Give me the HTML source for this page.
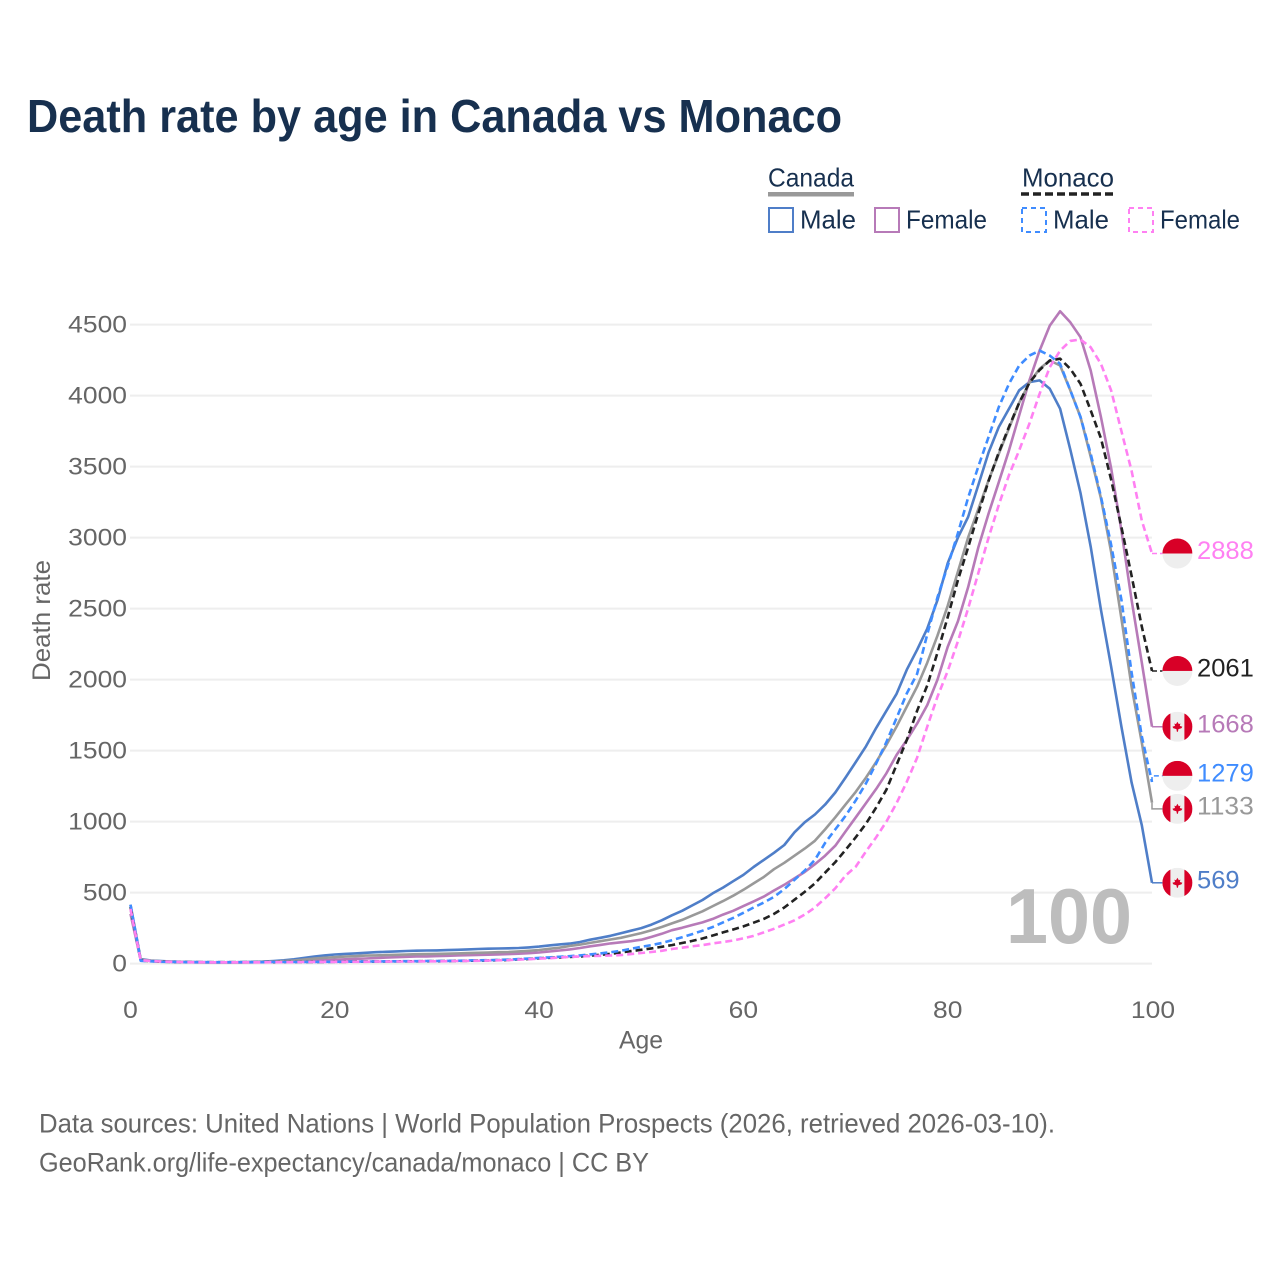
<!DOCTYPE html>
<html lang="en">
<head>
<meta charset="utf-8">
<title>Death rate by age in Canada vs Monaco</title>
<style>
html,body{margin:0;padding:0;background:#fff;}
svg{display:block;}
text{font-family:"Liberation Sans",sans-serif;}
</style>
</head>
<body>
<svg id="chart" xmlns="http://www.w3.org/2000/svg" width="1280" height="1280" viewBox="0 0 1280 1280">
  <rect width="1280" height="1280" fill="#ffffff"/>
  <text x="27" y="132" font-size="46" font-weight="700" fill="#17304f" textLength="815" lengthAdjust="spacingAndGlyphs">Death rate by age in Canada vs Monaco</text>

  <g fill="#17304f" font-size="26">
    <text x="768" y="186.5" textLength="86" lengthAdjust="spacingAndGlyphs">Canada</text>
    <rect x="768" y="192" width="86" height="4.5" fill="#999999"/>
    <text x="1022" y="186.5" textLength="92" lengthAdjust="spacingAndGlyphs">Monaco</text>
    <line x1="1021" y1="194" x2="1114" y2="194" stroke="#222222" stroke-width="3.5" stroke-dasharray="8 4"/>
    <rect x="769" y="208" width="24" height="24" fill="none" stroke="#4f7ec8" stroke-width="2"/>
    <text x="800" y="228.5" textLength="56" lengthAdjust="spacingAndGlyphs">Male</text>
    <rect x="875" y="208" width="24" height="24" fill="none" stroke="#b77ab8" stroke-width="2"/>
    <text x="906" y="228.5" textLength="81" lengthAdjust="spacingAndGlyphs">Female</text>
    <rect x="1022" y="208" width="24" height="24" fill="none" stroke="#3f8cff" stroke-width="2" stroke-dasharray="5 4"/>
    <text x="1053" y="228.5" textLength="56" lengthAdjust="spacingAndGlyphs">Male</text>
    <rect x="1129" y="208" width="24" height="24" fill="none" stroke="#ff80f2" stroke-width="2" stroke-dasharray="5 4"/>
    <text x="1160" y="228.5" textLength="80" lengthAdjust="spacingAndGlyphs">Female</text>
  </g>

  <g id="grid"></g>
  <g id="yticks"></g>
  <g id="xticks"></g>
  <text transform="translate(50 620.5) rotate(-90)" text-anchor="middle" font-size="25" fill="#666666" textLength="121" lengthAdjust="spacingAndGlyphs">Death rate</text>
  <text x="641" y="1048.5" text-anchor="middle" font-size="25" fill="#666666" textLength="44" lengthAdjust="spacingAndGlyphs">Age</text>
  <text x="1006" y="943" font-size="78" font-weight="700" fill="#bdbdbd" textLength="126" lengthAdjust="spacingAndGlyphs">100</text>
  <g id="series"></g>
  <g id="ends"></g>

  <text x="39" y="1132.5" font-size="26.5" fill="#666666" textLength="1016" lengthAdjust="spacingAndGlyphs">Data sources: United Nations | World Population Prospects (2026, retrieved 2026-03-10).</text>
  <text x="39" y="1171.5" font-size="26.5" fill="#666666" textLength="610" lengthAdjust="spacingAndGlyphs">GeoRank.org/life-expectancy/canada/monaco | CC BY</text>
</svg>
<script>
var yTicks = [0, 500, 1000, 1500, 2000, 2500, 3000, 3500, 4000, 4500];
var xTicks = [0, 20, 40, 60, 80, 100];

var canadaMale = [
  415,32,22,18,15,13,11,10,9,9,
  9,10,12,14,18,23,30,40,50,58,
  64,68,72,76,80,83,86,89,91,92,
  93,95,97,100,103,105,106,108,110,114,
  120,128,135,141,152,168,182,196,214,232,
  250,275,305,340,372,410,448,495,535,580,
  625,680,730,780,835,925,995,1050,1120,1205,
  1310,1420,1530,1660,1780,1900,2070,2210,2360,2560,
  2820,3000,3145,3370,3600,3779,3908,4037,4095,4107,
  4048,3908,3620,3314,2936,2493,2092,1669,1275,975,569
];
var canadaFemale = [
  350,25,18,14,12,10,9,8,8,8,
  8,8,9,10,11,13,15,18,21,24,
  27,30,33,36,39,42,45,48,50,51,
  53,55,57,59,61,63,65,67,70,73,
  78,85,92,100,110,122,132,142,150,158,
  168,188,210,235,252,272,290,315,345,372,
  405,438,472,515,555,600,645,700,760,830,
  930,1030,1130,1230,1340,1470,1575,1690,1821,2000,
  2230,2410,2650,2930,3170,3390,3615,3861,4107,4317,
  4493,4594,4516,4411,4177,3850,3490,3050,2560,2120,1668
];
var canadaBoth = [
  385,28,20,16,14,12,10,9,9,9,
  9,9,10,12,14,18,22,28,35,41,
  45,49,52,56,58,60,62,64,66,67,
  68,70,72,74,76,78,80,82,86,90,
  96,104,112,124,134,146,158,170,182,198,
  215,235,258,283,308,338,368,405,440,478,
  520,565,610,665,710,760,810,865,945,1030,
  1120,1210,1310,1420,1540,1670,1810,1950,2120,2310,
  2520,2760,3000,3200,3404,3590,3770,3950,4090,4189,
  4247,4212,4037,3849,3570,3278,2900,2430,1950,1556,1133
];
var monacoMale = [
  415,20,16,13,12,11,10,10,10,10,
  10,10,10,10,11,11,11,12,12,13,
  13,14,14,15,15,16,16,17,17,18,
  18,19,20,22,23,24,26,28,32,35,
  40,44,48,52,58,65,72,80,90,104,
  118,130,145,165,185,208,232,258,290,322,
  358,395,430,470,525,590,655,730,850,945,
  1040,1150,1270,1410,1560,1730,1903,2040,2320,2580,
  2800,3030,3280,3500,3709,3920,4083,4212,4282,4317,
  4282,4224,4037,3849,3590,3290,2950,2563,2049,1600,1279
];
var monacoBoth = [
  400,22,17,14,12,11,10,10,10,10,
  10,10,10,10,10,11,11,11,12,12,
  13,13,14,14,15,15,16,16,16,17,
  17,18,19,20,21,22,24,26,30,33,
  37,41,44,47,50,56,62,68,78,88,
  97,107,118,130,145,160,177,198,220,240,
  262,288,315,350,395,450,505,565,640,715,
  800,890,985,1100,1225,1400,1575,1780,1960,2190,
  2440,2700,2930,3170,3400,3600,3780,3950,4090,4180,
  4247,4260,4189,4083,3896,3700,3410,3075,2730,2373,2061
];
var monacoFemale = [
  385,24,18,15,13,11,10,10,9,9,
  9,9,9,9,10,10,10,11,11,12,
  12,12,13,13,14,14,15,15,15,16,
  16,17,18,19,20,21,23,25,28,31,
  35,38,42,47,50,53,55,57,60,67,
  75,82,90,103,112,122,130,142,152,163,
  178,195,220,245,275,305,345,395,460,530,
  620,683,790,890,1000,1130,1280,1450,1670,1880,
  2060,2270,2500,2750,3000,3230,3440,3615,3803,4013,
  4200,4317,4385,4395,4340,4224,4037,3750,3470,3120,2888
];

var SVGNS = 'http://www.w3.org/2000/svg';
var plotLeft = 130.5, plotRight = 1152, yZero = 963.6, yPerUnit = 0.142;
function xScale(age) { return plotLeft + (plotRight - plotLeft) * age / 100; }
function yScale(v) { return yZero - v * yPerUnit; }
function make(tag, parent, attrs) {
  var el = document.createElementNS(SVGNS, tag);
  for (var k in attrs) el.setAttribute(k, attrs[k]);
  parent.appendChild(el);
  return el;
}

var gridG = document.getElementById('grid');
var yG = document.getElementById('yticks');
var xG = document.getElementById('xticks');
yTicks.forEach(function (t) {
  var line = make('line', gridG, { x1: 130, x2: plotRight, y1: yScale(t), y2: yScale(t), stroke: '#eeeeee', 'stroke-width': 2 });
  
  
  var label = make('text', yG, { x: 127, y: yScale(t) + 7.8, 'text-anchor': 'end', 'font-size': 24.5, fill: '#666666', textLength: String(t).length * 14.7, lengthAdjust: 'spacingAndGlyphs' });
  label.textContent = t;
  
  
});
xTicks.forEach(function (t) {
  var label = make('text', xG, { x: xScale(t) + (t === 100 ? 1 : 0), y: 1018, 'text-anchor': 'middle', 'font-size': 24.5, fill: '#666666', textLength: String(t).length * 14.7, lengthAdjust: 'spacingAndGlyphs' });
  label.textContent = t;
  
  
});

var seriesList = [
  { id: 'canada-male', values: canadaMale, color: '#4f7ec8', dash: '', flag: 'canada', textColor: '#4f7ec8' },
  { id: 'canada-female', values: canadaFemale, color: '#b77ab8', dash: '', flag: 'canada', textColor: '#b77ab8' },
  { id: 'canada-both', values: canadaBoth, color: '#999999', dash: '', flag: 'canada', textColor: '#999999' },
  { id: 'monaco-both', values: monacoBoth, color: '#222222', dash: '7 4', flag: 'monaco', textColor: '#222222' },
  { id: 'monaco-male', values: monacoMale, color: '#3f8cff', dash: '7 4', flag: 'monaco', textColor: '#3f8cff' },
  { id: 'monaco-female', values: monacoFemale, color: '#ff80f2', dash: '7 4', flag: 'monaco', textColor: '#ff80f2' }
];

var seriesG = document.getElementById('series');
seriesList.forEach(function (s) {
  var pts = s.values.map(function (v, i) { return xScale(i).toFixed(1) + ',' + yScale(v).toFixed(1); }).join(' ');
  var line = make('polyline', seriesG, { points: pts, fill: 'none', stroke: s.color, 'stroke-width': 2.6, 'stroke-linejoin': 'round' });
  if (s.dash) line.setAttribute('stroke-dasharray', s.dash);
  
  
});

// Dodge end labels so flags do not overlap
var minGap = 33;
var ordered = seriesList.map(function (s) {
  var v = s.values[s.values.length - 1];
  return { s: s, v: v, y0: yScale(v), y: yScale(v) };
}).sort(function (a, b) { return a.y0 - b.y0; });
for (var pass = 0; pass < 20; pass++) {
  for (var i = 1; i < ordered.length; i++) {
    var gap = ordered[i].y - ordered[i - 1].y;
    if (gap < minGap) {
      var shift = (minGap - gap) / 2;
      ordered[i - 1].y -= shift;
      ordered[i].y += shift;
    }
  }
}

var endsG = document.getElementById('ends');
var flagX = 1177.4, flagR = 15;
ordered.forEach(function (o, idx) {
  var s = o.s;
  var conn = make('path', endsG, { d: 'M' + plotRight + ' ' + o.y0 + ' V' + o.y + ' H' + (flagX - flagR), fill: 'none', stroke: s.color, 'stroke-width': 1.5 });
  if (s.dash) conn.setAttribute('stroke-dasharray', '5 3');
  
  

  var clip = make('clipPath', endsG, { id: 'flag-clip-' + idx });
  make('circle', clip, { cx: flagX, cy: o.y, r: flagR });

  var flag = make('g', endsG, { 'clip-path': 'url(#flag-clip-' + idx + ')' });
  
  
  make('rect', flag, { x: flagX - flagR, y: o.y - flagR, width: 2 * flagR, height: 2 * flagR, fill: '#eeeeee' });
  if (s.flag === 'monaco') {
    make('rect', flag, { x: flagX - flagR, y: o.y - flagR, width: 2 * flagR, height: flagR, fill: '#d80027' });
  } else {
    make('rect', flag, { x: flagX - flagR, y: o.y - flagR, width: 8, height: 2 * flagR, fill: '#d80027' });
    make('rect', flag, { x: flagX + flagR - 8, y: o.y - flagR, width: 8, height: 2 * flagR, fill: '#d80027' });
    var leaf = [[0,-5],[1.4,-2.6],[3,-3.2],[2.4,-0.8],[5,0],[4,1.6],[1,2.4],[0.5,5],[-0.5,5],[-1,2.4],[-4,1.6],[-5,0],[-2.4,-0.8],[-3,-3.2],[-1.4,-2.6]];
    make('polygon', flag, { points: leaf.map(function (p) { return (flagX + p[0]).toFixed(1) + ',' + (o.y + p[1]).toFixed(1); }).join(' '), fill: '#d80027' });
  }

  var label = make('text', endsG, { x: 1197, y: o.y + 5.7, 'font-size': 25, fill: s.textColor, textLength: String(o.v).length * 14.2, lengthAdjust: 'spacingAndGlyphs' });
  label.textContent = o.v;
  
  
});
</script>
</body>
</html>
